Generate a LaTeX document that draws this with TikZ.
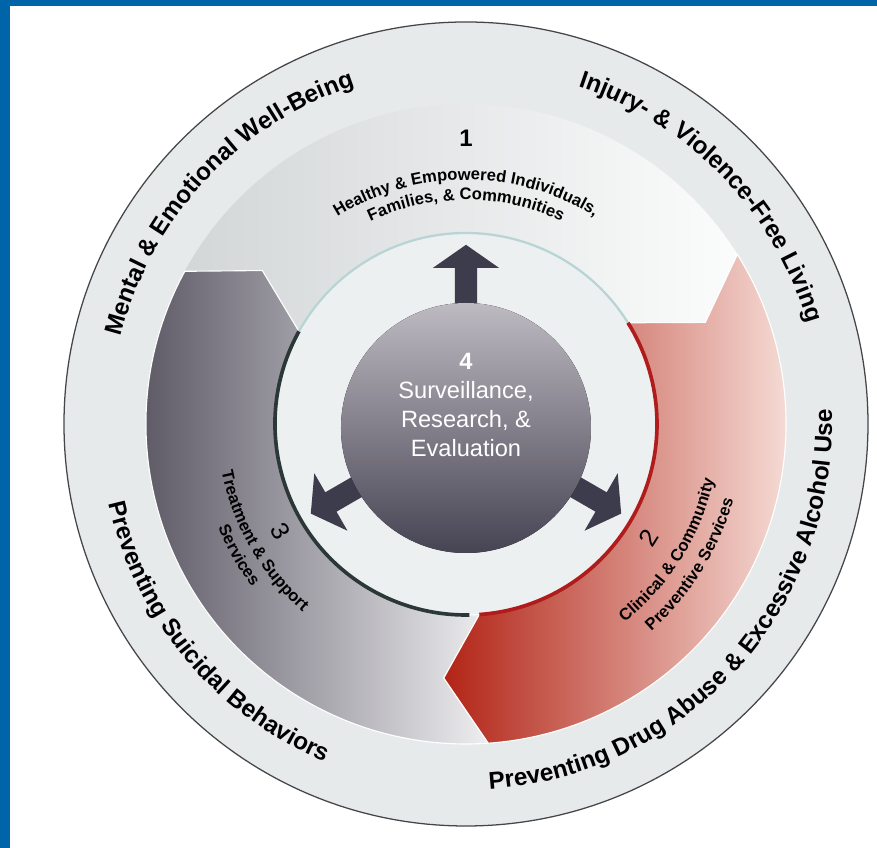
\documentclass[tikz,border=0pt]{standalone}
\usepackage{fontspec}
\setmainfont{Liberation Sans}
\usepackage{tikz}
\usetikzlibrary{decorations.text}
\definecolor{frameblue}{RGB}{0, 101, 168}
\definecolor{bandgray}{RGB}{231, 234, 235}
\definecolor{rimgray}{RGB}{70, 70, 74}
\definecolor{healthgray}{RGB}{208, 212, 213}
\definecolor{innerwhite}{RGB}{237, 240, 240}
\definecolor{treatdark}{RGB}{76, 72, 86}
\definecolor{treatmid}{RGB}{130, 127, 138}
\definecolor{treatlight}{RGB}{238, 238, 240}
\definecolor{clinred}{RGB}{178, 36, 22}
\definecolor{clinmid}{RGB}{222, 138, 112}
\definecolor{clinlight}{RGB}{253, 242, 237}
\definecolor{survtop}{RGB}{190, 186, 194}
\definecolor{survbottom}{RGB}{70, 68, 83}
\definecolor{arrowslate}{RGB}{60, 60, 76}
\definecolor{tealline}{RGB}{184, 212, 212}
\definecolor{darkline}{RGB}{44, 56, 56}
\definecolor{redline}{RGB}{176, 28, 28}
\newcommand{\bandfont}{\fontsize{17.3}{20}\selectfont\bfseries}
\newcommand{\ringfont}{\fontsize{11.8}{14}\selectfont\bfseries}

\begin{document}
\begin{tikzpicture}[
    bandtext/.style={decoration={text along path, text align=center,
        text={|\bandfont|#1}}, decorate},
    ringtext/.style={decoration={text along path, text align=center,
        text={|\ringfont|#1}}, decorate},
    digit/.style={font=\fontsize{18}{20}\selectfont}
]
    % frame
    \fill[white] (-11.65,-10.6) rectangle (10.275,10.6);
    \useasboundingbox (-11.65,-10.6) rectangle (10.275,10.6);
    \fill[frameblue] (-11.65,-10.6) rectangle (-11.4,10.6);
    \fill[frameblue] (-11.65,10.45) rectangle (10.275,10.6);

    % outer band
    \filldraw[fill=bandgray, draw=rimgray, line width=0.9pt] (0,0) circle (10.05);
    % ring 1
    \path[even odd rule, left color=healthgray, right color=white] (0,0) circle (8) (0,0) circle (4.775);
    \fill[innerwhite] (0,0) circle (4.775);

    % ring 3
    \path[draw=white, line width=0.8pt, left color=treatdark, middle color=treatmid, right color=treatlight]
        (151:4.775) -- (143:6.375) -- (151.5:8) arc[start angle=151.5, end angle=274, radius=8]
        -- (265:6.375) -- (274:4.775) arc[start angle=274, end angle=151, radius=4.775] -- cycle;
    % ring 2
    \path[draw=white, line width=0.8pt, left color=clinred, middle color=clinmid, right color=clinlight]
        (32:4.775) -- (23:6.5) -- (32:8) arc[start angle=32, end angle=-86, radius=8]
        -- (-95:6.375) -- (-86:4.775) arc[start angle=-86, end angle=32, radius=4.775] -- cycle;

    % edge lines
    \draw[tealline, line width=1.6pt] (32:4.775) arc[start angle=32, end angle=151, radius=4.775];
    \draw[darkline, line width=2.6pt] (151:4.775) arc[start angle=151, end angle=271, radius=4.775];
    \draw[redline, line width=2.6pt] (-86:4.775) arc[start angle=-86, end angle=32, radius=4.775];

    % arrows out of the centre
    \foreach \ang in {90,210,330}
        \fill[arrowslate, rotate=\ang] (2.9,-0.28) -- (3.9,-0.28) -- (3.9,-0.83) -- (4.48,0)
            -- (3.9,0.83) -- (3.9,0.28) -- (2.9,0.28) -- cycle;

    % centre disk
    \fill[top color=survtop, bottom color=survbottom] (0,-0.1) circle (3.125);
    \node[white, align=center, font=\fontsize{16.8}{20.5}\selectfont] (four) at (0,0.475)
        {\textbf{4}\\Surveillance,\\Research, \&\\Evaluation};

    % numbers
    \node[digit, font=\fontsize{17}{19}\selectfont\bfseries] (one) at (90:7.15) {1};
    \node[digit, rotate=58] (two) at (-32:5.375) {2};
    \node[digit, rotate=-60] (three) at (210:5.35) {3};

    % ring labels
    \path[ringtext={Healthy {\&} Empowered Individuals,}] (150:6.1) arc[start angle=150, end angle=30, radius=6.1];
    \path[ringtext={Families, {\&} Communities}] (150:5.6) arc[start angle=150, end angle=30, radius=5.6];
    \path[ringtext={Clinical {\&} Community}] (-92:6.35) arc[start angle=-92, end angle=28, radius=6.35];
    \path[ringtext={Preventive Services}] (-92:6.95) arc[start angle=-92, end angle=28, radius=6.95];
    \path[ringtext={Treatment {\&} Support}] (150:6.22) arc[start angle=150, end angle=270, radius=6.22];
    \path[ringtext={Services}] (150:6.72) arc[start angle=150, end angle=270, radius=6.72];

    % band labels
    \path[bandtext={Mental {\&} Emotional Well-Being}] (207:8.9) arc[start angle=207, end angle=67, radius=8.9];
    \path[bandtext={Injury- {\&} Violence-Free Living}] (114:8.9) arc[start angle=114, end angle=-26, radius=8.9];
    \path[bandtext={Preventing Drug Abuse {\&} Excessive Alcohol Use}] (-112:9.15) arc[start angle=-112, end angle=28, radius=9.15];
    \path[bandtext={Preventing Suicidal Behaviors}] (150:9.15) arc[start angle=150, end angle=290, radius=9.15];
\end{tikzpicture}
\end{document}
